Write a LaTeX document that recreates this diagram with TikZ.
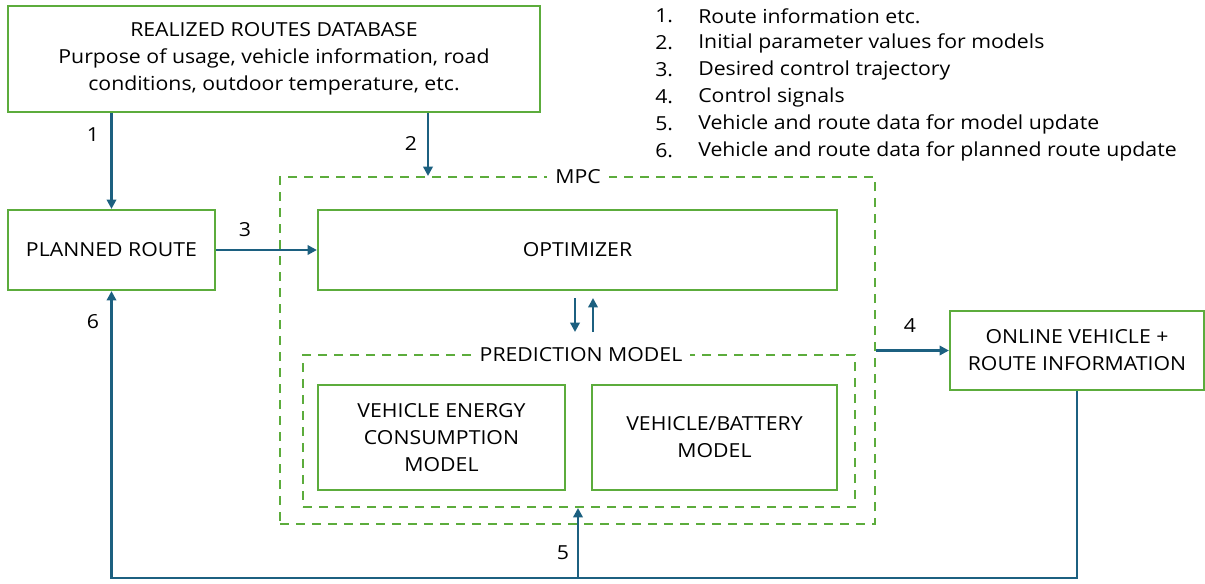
\documentclass[tikz,border=0pt]{standalone}
\usepackage{fontspec}
\setmainfont{Open Sans}[FakeStretch=1.1]
\usetikzlibrary{arrows.meta}
\definecolor{boxgreen}{RGB}{92,172,60}
\definecolor{arrowblue}{RGB}{28,96,128}
\tikzset{
  px/.style={x=0.75pt,y=-0.75pt},
  solidbox/.style={draw=boxgreen,line width=1.6pt,fill=white,align=center,inner sep=0pt,
    font=\fontsize{14.5}{20.25}\selectfont},
  dashbox/.style={draw=boxgreen,line width=1.5pt,dash pattern=on 7pt off 5pt,inner sep=0pt},
  boxlabel/.style={fill=white,inner xsep=6pt,inner ysep=1pt,font=\fontsize{14.5}{16}\selectfont},
  arr/.style={draw=arrowblue,line width=1.9pt,-{Triangle[length=7pt,width=7pt]}},
  num/.style={font=\fontsize{14.5}{16}\selectfont,inner sep=0pt},
  listtxt/.style={font=\fontsize{14.5}{16}\selectfont,inner sep=0pt,anchor=west},
}
\begin{document}
\begin{tikzpicture}[px]
\useasboundingbox (0,0) rectangle (1205,583);
% boxes
\node[solidbox,minimum width=399pt,minimum height=79.5pt] (db) at (274,59)
  {REALIZED ROUTES DATABASE\\Purpose of usage, vehicle information, road\\conditions, outdoor temperature, etc.};
\node[solidbox,minimum width=155.25pt,minimum height=60pt] (planned) at (111.5,250) {PLANNED ROUTE};
\node[dashbox,minimum width=446.25pt,minimum height=260.25pt] (mpc) at (577.5,350.5) {};
\node[boxlabel] (mpclabel) at (578,177) {MPC};
\node[solidbox,minimum width=389.25pt,minimum height=60pt] (optimizer) at (577.5,250) {OPTIMIZER};
\node[dashbox,minimum width=414pt,minimum height=114pt] (pred) at (579,431) {};
\node[boxlabel] (predlabel) at (581,355) {PREDICTION MODEL};
\node[solidbox,minimum width=185.25pt,minimum height=78.75pt] (vec) at (441.5,437.5)
  {VEHICLE ENERGY\\CONSUMPTION\\MODEL};
\node[solidbox,minimum width=183.75pt,minimum height=78.75pt] (vb) at (714.5,437.5)
  {VEHICLE/BATTERY\\MODEL};
\node[solidbox,minimum width=190.5pt,minimum height=59.25pt] (online) at (1077,350.5)
  {ONLINE VEHICLE +\\ROUTE INFORMATION};
% helper coordinates
\coordinate (c2) at (428,0);
\coordinate (c5) at (578,0);
\coordinate (cdown) at (575,298);
\coordinate (cdownend) at (575,332);
\coordinate (cup) at (593,332);
\coordinate (cupend) at (593,298);
\coordinate (bottom) at (0,578);
% connectors
\draw[arr] (planned.north |- db.south) -- (planned.north);
\draw[arr] (db.south -| c2) -- (mpc.north -| c2);
\draw[arr] (planned.east) -- (optimizer.west);
\draw[arr] (mpc.east |- online.west) -- (online.west);
\draw[arr] (cdown) -- (cdownend);
\draw[arr] (cup) -- (cupend);
\draw[arr] (online.south) -- (online.south |- bottom) -- (planned.south |- bottom) -- (planned.south);
\draw[arr] (c5 |- bottom) -- (pred.south -| c5);
% labels
\node[num] (l1) at (93,135) {1};
\node[num] (l2) at (411,143) {2};
\node[num] (l3) at (245,230) {3};
\node[num] (l4) at (910,326) {4};
\node[num] (l5) at (563,553) {5};
\node[num] (l6) at (93,322) {6};
% list
\node[num,anchor=west] (n1) at (655,16) {1.};
\node[num,anchor=west] (n2) at (655,43) {2.};
\node[num,anchor=west] (n3) at (655,70) {3.};
\node[num,anchor=west] (n4) at (655,97) {4.};
\node[num,anchor=west] (n5) at (655,124) {5.};
\node[num,anchor=west] (n6) at (655,151) {6.};
\node[listtxt] (t1) at (698,16) {Route information etc.};
\node[listtxt] (t2) at (698,43) {Initial parameter values for models};
\node[listtxt] (t3) at (698,70) {Desired control trajectory};
\node[listtxt] (t4) at (698,97) {Control signals};
\node[listtxt] (t5) at (698,124) {Vehicle and route data for model update};
\node[listtxt] (t6) at (698,151) {Vehicle and route data for planned route update};
\end{tikzpicture}
\end{document}
